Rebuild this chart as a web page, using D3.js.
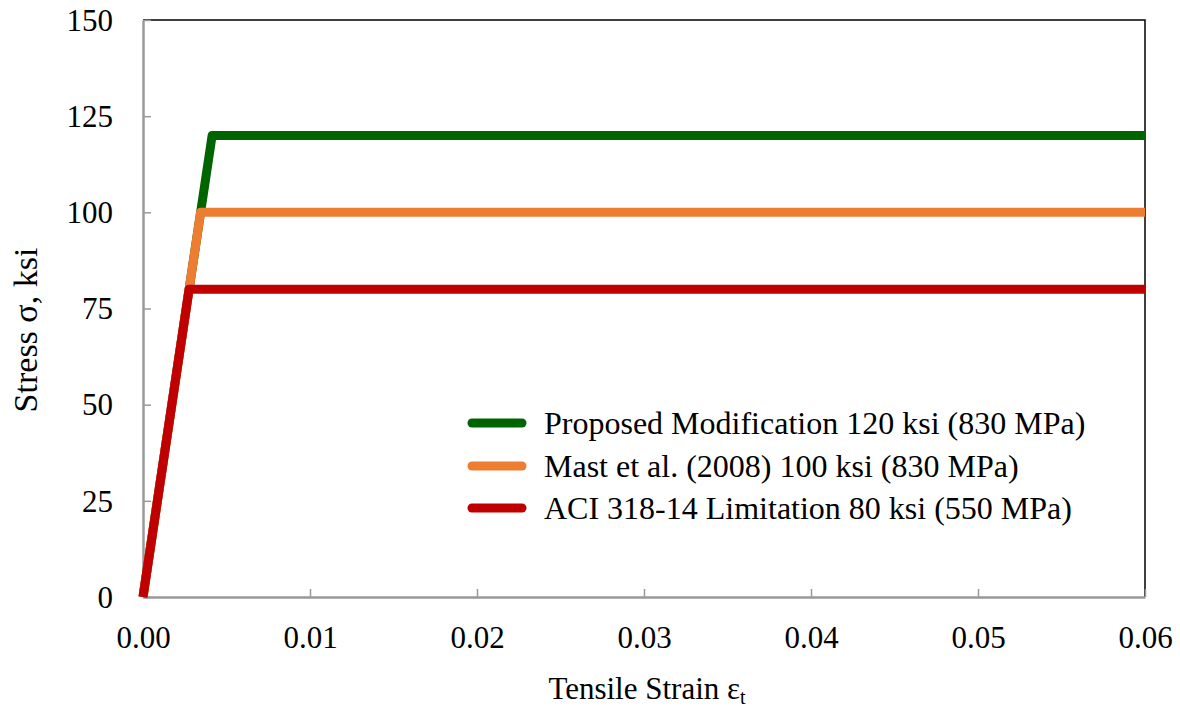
<!DOCTYPE html>
<html>
<head>
<meta charset="utf-8">
<script src="https://cdn.jsdelivr.net/npm/d3@7"></script>
<style>
  body { margin: 0; background: #fff; }
  svg text { font-family: "Liberation Serif", "Times New Roman", serif; fill: #000; }
</style>
</head>
<body>
<svg id="chart" width="1180" height="711"></svg>
<script>
// series: yield strain / yield stress, then flat to end of axis
var seriesNames = ['Proposed Modification 120 ksi (830 MPa)',
                   'Mast et al. (2008) 100 ksi (830 MPa)',
                   'ACI 318-14 Limitation 80 ksi (550 MPa)']
var seriesColors = ['#006400', '#ED7D31', '#C00000']
var yieldStrain = [0.00414, 0.00345, 0.00276]
var yieldStress = [120, 100, 80]
var endStrain = 0.06
var xTicks = [0, 0.01, 0.02, 0.03, 0.04, 0.05, 0.06]
var yTicks = [0, 25, 50, 75, 100, 125, 150]

var svg = d3.select('#chart')
var margin = {left: 143, top: 20, right: 1145, bottom: 597}

var x = d3.scaleLinear().domain([0, 0.06]).range([margin.left, margin.right])
var y = d3.scaleLinear().domain([0, 150]).range([margin.bottom, margin.top])

// top and right frame
svg.append('path')
    .attr('d', 'M' + margin.left + ',' + margin.top + 'H' + margin.right + 'V' + margin.bottom)
    .attr('fill', 'none')
    .attr('stroke', '#000')
    .attr('stroke-width', 1.5)

var xAxis = svg.append('g')
    .attr('transform', 'translate(0,' + margin.bottom + ')')
    .call(d3.axisBottom(x).tickValues(xTicks).tickFormat(d3.format('.2f')).tickSizeInner(-8).tickSizeOuter(0).tickPadding(29))
var yAxis = svg.append('g')
    .attr('transform', 'translate(' + margin.left + ',0)')
    .call(d3.axisLeft(y).tickValues(yTicks).tickSizeInner(-8).tickSizeOuter(0).tickPadding(30))

;[xAxis, yAxis].forEach(function(ax) {
    ax.attr('font-family', null)
    ax.select('.domain').attr('stroke', '#999').attr('stroke-width', 2.5)
    ax.selectAll('.tick line').attr('stroke', '#999').attr('stroke-width', 1.5)
    ax.selectAll('.tick text').attr('font-size', 31).attr('fill', '#000')
})
yAxis.selectAll('.tick text').attr('dy', '0.33em')

var line = d3.line().x(function(d) { return x(d[0]) }).y(function(d) { return y(d[1]) })

for (var i = 0; i < seriesNames.length; i++) {
    var pts = [[0, 0], [yieldStrain[i], yieldStress[i]], [endStrain, yieldStress[i]]]
    svg.append('path')
        .datum(pts)
        .attr('d', line)
        .attr('fill', 'none')
        .attr('stroke', seriesColors[i])
        .attr('stroke-width', 9)
        .attr('stroke-linejoin', 'round')
}

// legend
var legend = svg.append('g')
var legendY = [423, 466, 508]
seriesNames.forEach(function(name, i) {
    legend.append('line')
        .attr('x1', 472).attr('x2', 522)
        .attr('y1', legendY[i]).attr('y2', legendY[i])
        .attr('stroke', seriesColors[i])
        .attr('stroke-width', 9)
        .attr('stroke-linecap', 'round')
    legend.append('text')
        .attr('x', 544)
        .attr('y', legendY[i])
        .attr('dy', '0.34em')
        .attr('font-size', 32)
        .text(name)
})

// axis titles
var xt = svg.append('text')
    .attr('x', 647)
    .attr('y', 699)
    .attr('text-anchor', 'middle')
    .attr('font-size', 31)
xt.append('tspan').text('Tensile Strain ε')
xt.append('tspan').attr('font-size', 20).attr('dy', 5).text('t')

svg.append('text')
    .attr('transform', 'translate(37,330) rotate(-90)')
    .attr('text-anchor', 'middle')
    .attr('font-size', 34)
    .text('Stress σ, ksi')
</script>
</body>
</html>
